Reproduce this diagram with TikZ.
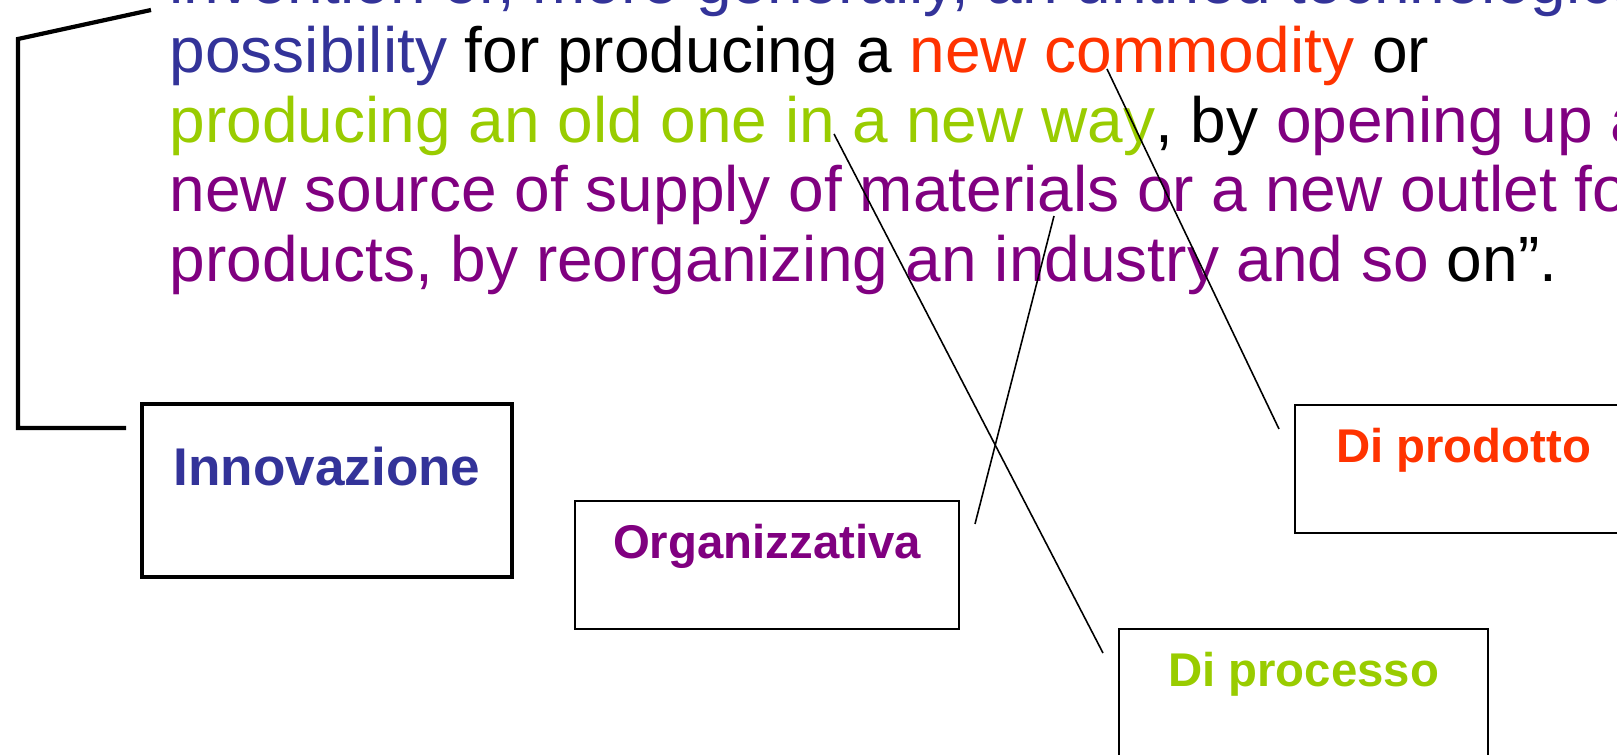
\documentclass[tikz,border=0pt]{standalone}
\usepackage{fontspec}
\setmainfont{Liberation Sans}
\usetikzlibrary{positioning}

\definecolor{innblue}{RGB}{51,51,153}
\definecolor{prodred}{RGB}{255,51,0}
\definecolor{procgreen}{RGB}{153,204,0}
\definecolor{orgpurple}{RGB}{128,0,128}

\tikzset{
  quoteline/.style={anchor=base west, inner sep=0pt, font=\fontsize{18.2}{20}\selectfont},
  typebox/.style={draw, line width=0.55pt, minimum height=1.28cm, inner sep=0pt},
  typelabel/.style={anchor=base, inner sep=0pt, font=\bfseries\fontsize{13.46}{15}\selectfont},
  link/.style={line width=0.45pt},
}

\begin{document}
\begin{tikzpicture}[x=0.01cm, y=-0.01cm]
\useasboundingbox (0,0) rectangle (1617,755);
\clip (0,0) rectangle (1617,755);

% the quotation
\node[quoteline, text=innblue] (q1) at (169,3.5) {invention or, more generally, an untried technological};
\node[quoteline] (q2) at (169,73) {\textcolor{innblue}{possibility} for producing a \textcolor{prodred}{new commodity} or};
\node[quoteline] (q3) at (169,142.5) {\textcolor{procgreen}{producing an old one in a new way}, by \textcolor{orgpurple}{opening up a}};
\node[quoteline, text=orgpurple] (q4) at (169,212) {new source of supply of materials or a new outlet for};
\node[quoteline] (q5) at (169,281.5) {\textcolor{orgpurple}{products, by reorganizing an industry and so} on''.};

% boxes
\node[typebox, line width=1.2pt, minimum width=3.70cm, minimum height=1.73cm] (innov) at (327,490.5) {};
\node[typelabel, text=innblue, font=\bfseries\fontsize{15.1}{17}\selectfont] (innovtxt) at ([yshift=-0.84cm]innov.north) {Innovazione};
\node[typebox, minimum width=3.84cm] (organ) at (767,565) {};
\node[typelabel, text=orgpurple] (organtxt) at ([yshift=-0.58cm]organ.north) {Organizzativa};
\node[typebox, minimum width=3.37cm] (prod) at (1463.5,469) {};
\node[typelabel, text=prodred] (prodtxt) at ([yshift=-0.58cm]prod.north) {Di prodotto};
\node[typebox, minimum width=3.69cm] (proc) at (1303.5,693) {};
\node[typelabel, text=procgreen] (proctxt) at ([yshift=-0.58cm]proc.north) {Di processo};

% connectors
\coordinate (brtop) at (151,10);
\coordinate (brend) at (126,428);
\draw[line width=1.2pt, line join=miter] (brtop) -- (18,39) -- (18,428) -- (brend);
\coordinate (inpt) at (834,134);
\coordinate (procend) at (1103,653);
\coordinate (compt) at (1107,69);
\coordinate (prodend) at (1279,429);
\coordinate (matpt) at (1054,216);
\coordinate (organend) at (975,524);
\draw[link] (inpt) -- (procend);
\draw[link] (compt) -- (prodend);
\draw[link] (matpt) -- (organend);
\end{tikzpicture}
\end{document}
